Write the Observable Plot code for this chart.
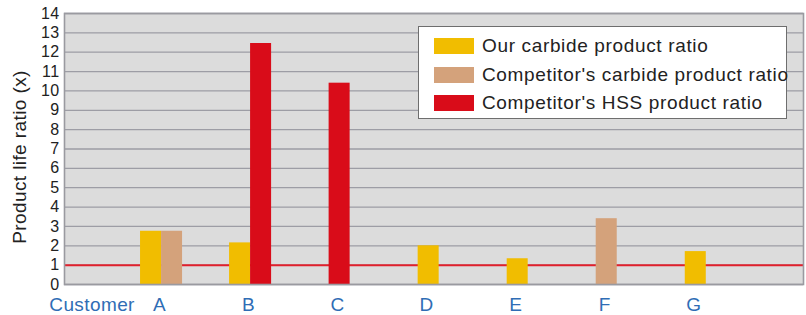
<!DOCTYPE html>
<html><head><meta charset="utf-8">
<script src="https://cdn.jsdelivr.net/npm/d3@7"></script>
<script src="https://cdn.jsdelivr.net/npm/@observablehq/plot@0.6"></script>
<style>
body{margin:0;background:#fff;font-family:"Liberation Sans",Arial,sans-serif}
#wrap{position:relative;width:806px;height:315px}
#legend{position:absolute;left:418px;top:26px;width:369px;height:93px;background:#fff;border:1px solid #6e6e6e;box-sizing:border-box}
.item{position:absolute;left:15px;height:16px}
.sw{position:absolute;left:0;top:0;width:40px;height:16px}
.lab{position:absolute;left:48px;top:-5px;font-size:19px;letter-spacing:0.65px;color:#222;white-space:nowrap;line-height:26px}
</style>
</head><body><div id="wrap"></div>
<script>
const customers = ["A","B","C","D","E","F","G"];
const seriesNames = ["Our carbide product ratio","Competitor's carbide product ratio","Competitor's HSS product ratio"];
const ourCarbide  = [2.75, 2.15, null, 2.0, 1.33, null, 1.7];
const compCarbide = [2.75, null, null, null, null, 3.4, null];
const compHSS     = [null, 12.45, 10.4, null, null, null, null];
const seriesColors = ["#f1bd00","#d4a27b","#d90c19"];
const yTicks = d3.range(0, 15);
const baseline = 1;
const xLabel = "Customer";
const yLabel = "Product life ratio (x)";

const series = [ourCarbide, compCarbide, compHSS];
const barW = 0.236;
const rows = [];
customers.forEach((c, i) => {
  const present = series.map((s, k) => ({k, v: s[i]})).filter(d => d.v != null);
  const n = present.length;
  present.forEach((d, j) => {
    const x1 = i + (j - n / 2) * barW;
    rows.push({customer: c, series: seriesNames[d.k], color: seriesColors[d.k], x1, x2: x1 + barW, value: d.v});
  });
});

const chart = Plot.plot({
  width: 806, height: 315,
  marginLeft: 64, marginRight: 3, marginTop: 13, marginBottom: 31,
  style: {fontFamily: "'Liberation Sans', Arial, sans-serif", letterSpacing: "0.4px", background: "#fff"},
  x: {type: "linear", domain: [-1.09, 7.21]},
  y: {domain: [0, 14]},
  marks: [
    Plot.frame({fill: "#dcdcdc"}),
    Plot.gridY(yTicks, {stroke: "#9d9da5", strokeOpacity: 1, strokeWidth: 1.3}),
    Plot.ruleY([baseline], {stroke: "#e1202c", strokeWidth: 2}),
    Plot.rectY(rows, {x1: "x1", x2: "x2", y1: 0, y2: "value", fill: "color"}),
    Plot.frame({stroke: "#9a9aa0", strokeWidth: 1.6}),
    Plot.axisY(yTicks, {tickSize: 0, tickPadding: 5, fontSize: 16, fill: "#222", label: null}),
    Plot.axisX(d3.range(customers.length), {tickSize: 0, tickPadding: 13, dx: -2, tickFormat: i => customers[i], fontSize: 19, fill: "#2f6db5", label: null}),
    Plot.text([xLabel], {x: -0.3, frameAnchor: "bottom", textAnchor: "end", lineAnchor: "top", dy: 13, fontSize: 19, fill: "#2f6db5"}),
    Plot.text([yLabel], {frameAnchor: "left", textAnchor: "middle", lineAnchor: "middle", rotate: -90, dx: -45, dy: 8, fontSize: 19, fill: "#222"})
  ]
});
const wrap = document.getElementById("wrap");
wrap.appendChild(chart);

const legend = document.createElement("div");
legend.id = "legend";
seriesNames.forEach((name, k) => {
  const it = document.createElement("div");
  it.className = "item";
  it.style.top = (11 + k * 28.5) + "px";
  it.innerHTML = `<div class="sw" style="background:${seriesColors[k]}"></div><div class="lab"></div>`;
  it.querySelector(".lab").textContent = name;
  legend.appendChild(it);
});
wrap.appendChild(legend);
</script>
</body></html>
